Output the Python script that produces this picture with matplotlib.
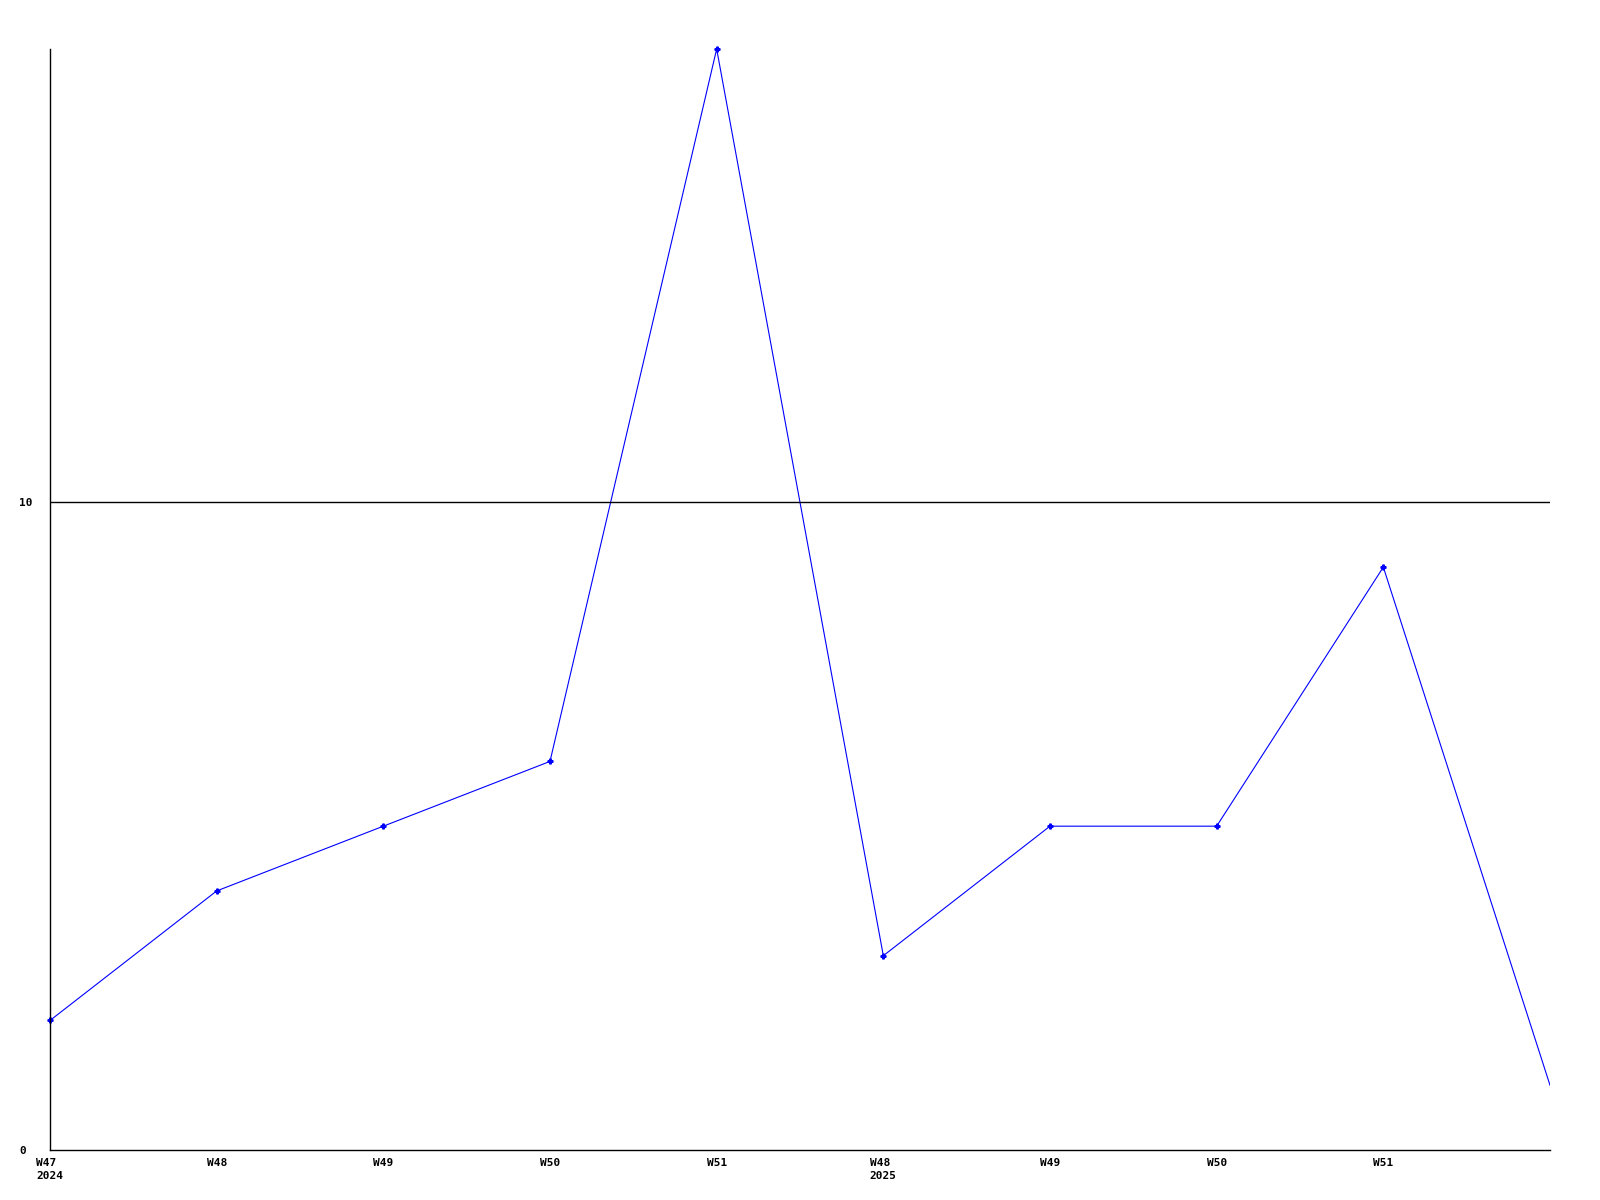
import matplotlib
matplotlib.use("Agg")
import matplotlib.pyplot as plt

# weekly counts
weeks = ["W47\n2024", "W48", "W49", "W50", "W51", "W48\n2025", "W49", "W50", "W51"]
counts = [2, 4, 5, 6, 17, 3, 5, 5, 9, 1]

fig = plt.figure(figsize=(16, 12), dpi=100)
ax = fig.add_axes([50 / 1600, 50 / 1200, 1500 / 1600, 1101 / 1200])

x = list(range(len(counts)))
ax.plot(x, counts, color="#0000ff", linewidth=0.8, clip_on=True)
ax.plot(x[:-1], counts[:-1], linestyle="none", marker="P", markersize=3.5,
        color="#0000ff", clip_on=False)

ax.axhline(10, color="black", linewidth=1)

ax.set_xlim(0, len(counts) - 1)
ax.set_ylim(0, 17)
ax.set_xticks(range(len(weeks)))
ax.set_xticklabels(weeks, ha="center", va="top", linespacing=1.3,
                   multialignment="left")
ax.set_yticks([0, 10])
ax.set_yticklabels(["0", "10"], ha="left")

for lab in ax.get_xticklabels() + ax.get_yticklabels():
    lab.set_fontfamily("DejaVu Sans Mono")
    lab.set_fontweight("bold")
    lab.set_fontsize(8)

ax.tick_params(axis="both", length=0)
ax.tick_params(axis="x", pad=6)
ax.tick_params(axis="y", pad=22)
for s in ["top", "right"]:
    ax.spines[s].set_visible(False)
for s in ["left", "bottom"]:
    ax.spines[s].set_linewidth(1)
    ax.spines[s].set_color("black")

fig.savefig("out.png", dpi=100)
